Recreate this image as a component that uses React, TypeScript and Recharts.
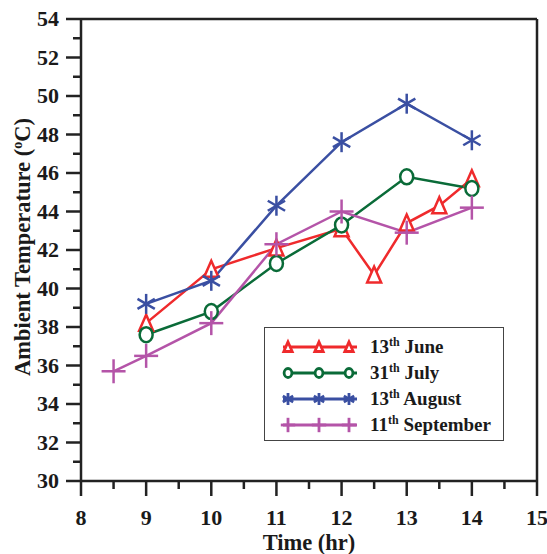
import React from 'react';
import { LineChart, Line, XAxis, YAxis, ReferenceLine, Legend } from 'recharts';

// values
const juneTime = [9, 10, 11, 12, 12.5, 13, 13.5, 14];
const juneTemp = [38.2, 41.0, 42.1, 43.1, 40.7, 43.4, 44.3, 45.7];
const julyTime = [9, 10, 11, 12, 13, 14];
const julyTemp = [37.6, 38.8, 41.3, 43.3, 45.8, 45.2];
const augustTime = [9, 10, 11, 12, 13, 14];
const augustTemp = [39.2, 40.4, 44.3, 47.6, 49.6, 47.7];
const septemberTime = [8.5, 9, 10, 11, 12, 13, 14];
const septemberTemp = [35.7, 36.5, 38.2, 42.3, 44.0, 42.9, 44.2];

const seriesNames = ['13th June', '31th July', '13th August', '11th September'];
const seriesColors = ['#ef2a2c', '#0a6b38', '#3a4fa2', '#b454a8'];

const xTicks = [8, 8.5, 9, 9.5, 10, 10.5, 11, 11.5, 12, 12.5, 13, 13.5, 14, 14.5, 15];
const yTicks = [30, 31, 32, 33, 34, 35, 36, 37, 38, 39, 40, 41, 42, 43, 44, 45, 46, 47, 48, 49, 50, 51, 52, 53, 54];

const toPoints = (xs: number[], ys: number[]) => xs.map((x, i) => ({ x, y: ys[i] }));

const FONT = '"Liberation Serif", "Times New Roman", serif';
const AXIS = '#222';

type MarkerKind = 'triangle' | 'circle' | 'star' | 'plus';
const markers: MarkerKind[] = ['triangle', 'circle', 'star', 'plus'];

const Marker = ({ kind, cx, cy, color, s = 1, sw = 2.5 }: any) => {
  if (kind === 'triangle') {
    const p = `${cx},${cy - 8.5 * s} ${cx - 7 * s},${cy + 7.5 * s} ${cx + 7 * s},${cy + 7.5 * s}`;
    return <polygon points={p} fill="#fff" stroke={color} strokeWidth={sw} strokeLinejoin="miter" />;
  }
  if (kind === 'circle') {
    return <ellipse cx={cx} cy={cy} rx={6.5 * s} ry={7.5 * s} fill="#fff" stroke={color} strokeWidth={sw} />;
  }
  if (kind === 'star') {
    const dx = 8.66 * s, dy = 5 * s, v = 10 * s;
    return (
      <g stroke={color} strokeWidth={sw}>
        <line x1={cx} y1={cy - v} x2={cx} y2={cy + v} />
        <line x1={cx - dx} y1={cy - dy} x2={cx + dx} y2={cy + dy} />
        <line x1={cx - dx} y1={cy + dy} x2={cx + dx} y2={cy - dy} />
      </g>
    );
  }
  const h = 12 * s;
  return (
    <g stroke={color} strokeWidth={sw}>
      <line x1={cx - h} y1={cy} x2={cx + h} y2={cy} />
      <line x1={cx} y1={cy - h} x2={cx} y2={cy + h} />
    </g>
  );
};

const makeDot = (kind: MarkerKind, color: string) => (props: any) => {
  const { cx, cy, index } = props;
  return (
    <g key={`${kind}-${index}`}>
      <Marker kind={kind} cx={cx} cy={cy} color={color} />
    </g>
  );
};

const XTick = ({ x, y, payload }: any) => {
  const major = Number.isInteger(payload.value);
  return (
    <g>
      <line x1={x} y1={y} x2={x} y2={y + (major ? 15 : 8)} stroke={AXIS} strokeWidth={2.5} />
      {major && (
        <text x={x} y={y + 44} textAnchor="middle" fontFamily={FONT} fontWeight="bold" fontSize={22} fill="#1a1a1a">
          {payload.value}
        </text>
      )}
    </g>
  );
};

const YTick = ({ x, y, payload }: any) => {
  const major = payload.value % 2 === 0;
  return (
    <g>
      <line x1={x} y1={y} x2={x - (major ? 15 : 8)} y2={y} stroke={AXIS} strokeWidth={2.5} />
      {major && (
        <text x={x - 22} y={y + 7} textAnchor="end" fontFamily={FONT} fontWeight="bold" fontSize={22} fill="#1a1a1a">
          {payload.value}
        </text>
      )}
    </g>
  );
};

const YLabel = ({ viewBox }: any) => {
  const cx = 30;
  const cy = viewBox.y + viewBox.height / 2 - 3;
  return (
    <text
      x={cx}
      y={cy}
      transform={`rotate(-90 ${cx} ${cy})`}
      textAnchor="middle"
      fontFamily={FONT}
      fontWeight="bold"
      fontSize={22.5}
      fill="#1a1a1a"
    >
      Ambient Temperature (<tspan dy={-8} fontSize={14}>o</tspan>
      <tspan dy={8}>C)</tspan>
    </text>
  );
};

const XLabel = ({ viewBox }: any) => (
  <text
    x={viewBox.x + viewBox.width / 2}
    y={viewBox.y + 69}
    textAnchor="middle"
    fontFamily={FONT}
    fontWeight="bold"
    fontSize={22.5}
    fill="#1a1a1a"
  >
    Time (hr)
  </text>
);

const LegendBox = () => (
  <div
    style={{
      border: '1px solid #444',
      width: 240,
      height: 114,
      boxSizing: 'border-box',
      paddingTop: 6,
      background: '#fff',
      fontFamily: FONT,
      fontWeight: 'bold',
      fontSize: 19,
      color: '#1a1a1a',
    }}
  >
    {seriesNames.map((name, i) => {
      const m = name.match(/^(\d+)(th)\s(.*)$/);
      return (
        <div key={name} style={{ display: 'flex', alignItems: 'center', height: 26 }}>
          <svg width={90} height={26} style={{ marginLeft: 13, flex: 'none' }}>
            <line x1={5} y1={13} x2={79} y2={13} stroke={seriesColors[i]} strokeWidth={2.8} />
            {[10, 41, 71].map((mx) => (
              <Marker key={mx} kind={markers[i]} cx={mx} cy={13} color={seriesColors[i]} s={0.6} sw={2.8} />
            ))}
          </svg>
          <span style={{ marginLeft: 2, whiteSpace: 'nowrap', lineHeight: '26px' }}>
            {m ? m[1] : name}
            {m && <sup style={{ fontSize: 12, lineHeight: 0 }}>{m[2]}</sup>}
            {m ? ` ${m[3]}` : ''}
          </span>
        </div>
      );
    })}
  </div>
);

export default function App() {
  const series = [
    toPoints(juneTime, juneTemp),
    toPoints(julyTime, julyTemp),
    toPoints(augustTime, augustTemp),
    toPoints(septemberTime, septemberTemp),
  ];
  return (
    <div style={{ position: 'absolute', left: 0, top: 0, width: 547, height: 554, background: '#fff' }}>
      <LineChart width={547} height={554} margin={{ top: 19, right: 10, left: 0, bottom: 0 }}>
        <XAxis
          type="number"
          dataKey="x"
          domain={[8, 15]}
          ticks={xTicks}
          interval={0}
          height={73}
          tickSize={0}
          tickMargin={0}
          tickLine={false}
          tick={<XTick />}
          axisLine={{ stroke: AXIS, strokeWidth: 2.5 }}
          label={<XLabel />}
          allowDuplicatedCategory={false}
        />
        <YAxis
          type="number"
          domain={[30, 54]}
          ticks={yTicks}
          interval={0}
          width={81}
          tickSize={0}
          tickMargin={0}
          tickLine={false}
          tick={<YTick />}
          axisLine={{ stroke: AXIS, strokeWidth: 2.5 }}
          label={<YLabel />}
        />
        <ReferenceLine y={54} stroke={AXIS} strokeWidth={2.5} />
        <ReferenceLine x={15} stroke={AXIS} strokeWidth={2.5} />
        {series.map((data, i) => (
          <Line
            key={seriesNames[i]}
            data={data}
            dataKey="y"
            name={seriesNames[i]}
            type="linear"
            stroke={seriesColors[i]}
            strokeWidth={2.5}
            dot={makeDot(markers[i], seriesColors[i])}
            activeDot={false}
            isAnimationActive={false}
          />
        ))}
        <Legend
          layout="vertical"
          align="center"
          verticalAlign="middle"
          content={<LegendBox />}
          wrapperStyle={{ position: 'absolute', left: 264, top: 327, width: 240, height: 114 }}
        />
      </LineChart>
    </div>
  );
}
